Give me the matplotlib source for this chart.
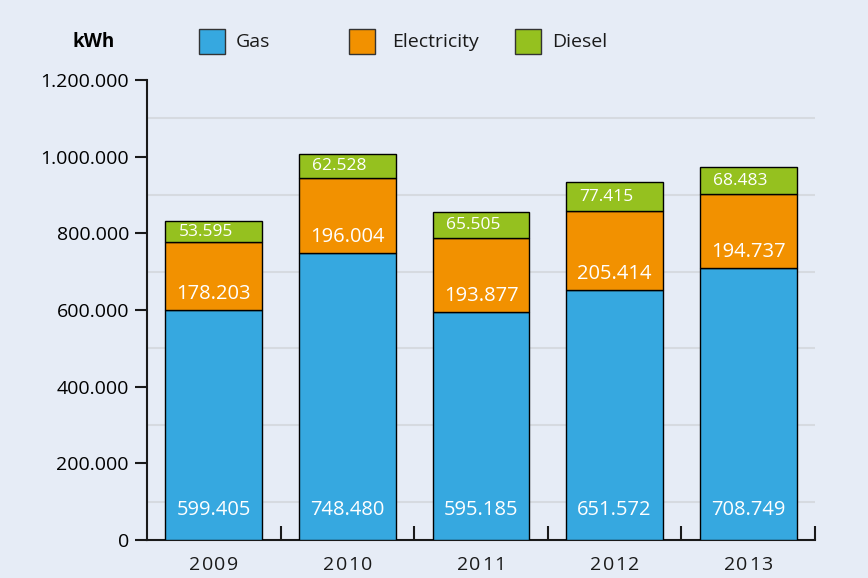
import numpy as np
import matplotlib
matplotlib.use('Agg')
import matplotlib.pyplot as plt
from matplotlib.patches import Rectangle
from matplotlib.ticker import FixedLocator,FuncFormatter

# Data
years = ['2009','2010','2011','2012','2013']
gas = [599405,748480,595185,651572,708749]
electricity = [178203,196004,193877,205414,194737]
diesel = [53595,62528,65505,77415,68483]
series_names = ['Gas','Electricity','Diesel']

BG = '#e6ecf6'
COLS = ['#36a8e0','#f29100','#95c11f']
FONT = 'Open Sans'

def dotfmt(v):
    return '{:,.0f}'.format(v).replace(',','.')

def spaced_text(ax,xc,yc,txt,step,**kw):
    # letter spaced label, step in points
    n = len(txt)
    for k,ch in enumerate(txt):
        ax.annotate(ch,(xc,yc),xycoords=ax.get_xaxis_transform(),
                    xytext=((k-(n-1)/2.0)*step,0),textcoords='offset points',
                    ha='center',va='top',annotation_clip=False,**kw)

fig = plt.figure(figsize=(8.68,5.78),dpi=100,facecolor=BG)
ax1 = fig.add_axes([147/868,1-540/578,668/868,460/578])
ax1.set_facecolor(BG)

x = np.arange(len(years))
width = 0.725
gas = np.array(gas)
electricity = np.array(electricity)
diesel = np.array(diesel)
bottoms = [np.zeros(len(years)),gas,gas+electricity]
for vals,bot,col in zip([gas,electricity,diesel],bottoms,COLS):
    ax1.bar(x,vals,width,bottom=bot,color=col,edgecolor='k',linewidth=1.0,zorder=3)

# value labels
for i in range(len(years)):
    ax1.text(x[i],78000,dotfmt(gas[i]),ha='center',va='center',color='w',fontsize=14.5,family=FONT,zorder=4)
    ax1.text(x[i],gas[i]+42000,dotfmt(electricity[i]),ha='center',va='center',color='w',fontsize=14.5,family=FONT,zorder=4)
    ax1.text(x[i]-width/2+0.1,gas[i]+electricity[i]+diesel[i]/2,dotfmt(diesel[i]),ha='left',va='center',color='w',fontsize=12.5,family=FONT,zorder=4)

ax1.set_xlim(-0.5,len(years)-0.5)
ax1.set_ylim(0,1200000)
for s in ['top','right']:
    ax1.spines[s].set_visible(False)
for s in ['left','bottom']:
    ax1.spines[s].set_linewidth(1.5)
    ax1.spines[s].set_color('#1a1a1a')

# y axis
ax1.yaxis.set_major_locator(FixedLocator(np.arange(0,1200001,200000)))
ax1.yaxis.set_major_formatter(FuncFormatter(lambda v,p: dotfmt(v)))
ax1.tick_params(axis='y',direction='out',length=9,width=1.5,color='#1a1a1a',labelsize=14,pad=4)
for lab in ax1.get_yticklabels():
    lab.set_family(FONT)
for v in np.arange(100000,1200000,200000):
    ax1.axhline(v,color='#d6dae0',linewidth=1.5,zorder=1)

# x axis
ax1.set_xticks(x+0.5)
ax1.set_xticklabels([])
ax1.tick_params(axis='x',direction='in',length=10,width=1.5,color='#1a1a1a')
for i,yr in enumerate(years):
    spaced_text(ax1,x[i],-0.035,yr,9.0,fontsize=14,family=FONT,color='#1a1a1a')

# legend header
fig.text(73/868,1-42/578,'kWh',ha='left',va='center',fontsize=13.5,fontweight='bold',family=FONT)
px = [199,349,515]
tx = [236,392,552]
for name,col,p,t in zip(series_names,COLS,px,tx):
    fig.patches.append(Rectangle((p/868,1-54/578),26/868,25/578,transform=fig.transFigure,facecolor=col,edgecolor='#333333',linewidth=1.0))
    fig.text(t/868,1-42/578,name,ha='left',va='center',fontsize=14,family=FONT,color='#1a1a1a')

plt.savefig('out.png',dpi=100,facecolor=BG)
